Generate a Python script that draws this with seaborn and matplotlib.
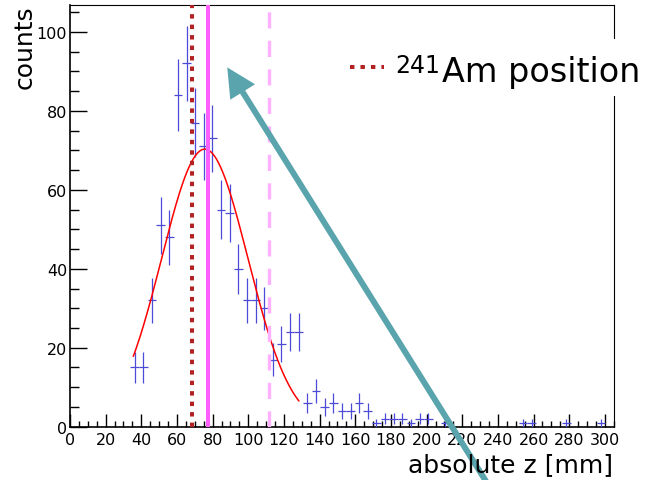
import numpy as np
import pandas as pd
import matplotlib
matplotlib.use("Agg")
import matplotlib.pyplot as plt
from matplotlib.ticker import MultipleLocator
from matplotlib.lines import Line2D
from matplotlib.patches import Rectangle
import seaborn as sns

# ---------------- data ----------------
hist_lo, hist_hi, n_bins = 0.0, 305.0, 63
counts = [0, 0, 0, 0, 0, 0, 0,
          15, 15, 32, 51, 48, 84, 92, 77, 71, 73, 55, 54, 40, 32, 32, 30, 17, 21, 24, 24,
          6, 9, 5, 6, 4, 4, 6, 4, 1, 2, 2, 2, 1, 2, 2, 0, 1,
          0, 0, 0, 0, 0, 0, 0, 0, 1, 1, 0, 0, 0, 1, 0, 0, 0, 1, 0]

# gaussian fit parameters
fit_amp, fit_mean, fit_sigma = 70.3, 75.6, 24.2
fit_lo, fit_hi = 35.5, 128.4

am_position = 68.7
mean_position = 77.3
dashed_position = 111.6

x_label = "absolute z [mm]"
y_label = "counts"
legend_sup = "241"
legend_text = "Am position"
x_ticks = list(range(0, 301, 20))
y_ticks = list(range(0, 101, 20))

# ---------------- style ----------------
sns.set_theme(style="ticks")
plt.rcParams["font.family"] = ["DejaVu Sans"]
plt.rcParams["text.color"] = "black"
plt.rcParams["axes.labelcolor"] = "black"
plt.rcParams["xtick.color"] = "black"
plt.rcParams["ytick.color"] = "black"

W, H = 654, 481
fig = plt.figure(figsize=(W / 100, H / 100), dpi=100)
fig.patch.set_facecolor("white")
ax_left, ax_right, ax_top, ax_bottom = 70, 613.8, 6, 427.7
ax = fig.add_axes([ax_left / W, 1 - ax_bottom / H, (ax_right - ax_left) / W, (ax_bottom - ax_top) / H])
ax.set_facecolor("white")

edges = np.linspace(hist_lo, hist_hi, n_bins + 1)
df = pd.DataFrame({"z": 0.5 * (edges[:-1] + edges[1:]),
                   "counts": counts,
                   "half": np.diff(edges) / 2})
df = df[df["counts"] > 0]
ax.errorbar(df["z"], df["counts"], xerr=df["half"], yerr=np.sqrt(df["counts"]),
            fmt="none", ecolor="#4b4bd8", elinewidth=0.9, capsize=0, zorder=3)

zf = np.linspace(fit_lo, fit_hi, 300)
fit_df = pd.DataFrame({"z": zf,
                       "f": fit_amp * np.exp(-0.5 * ((zf - fit_mean) / fit_sigma) ** 2)})
sns.lineplot(data=fit_df, x="z", y="f", color="#ff0000", lw=1.1, ax=ax, zorder=4)

ax.axvline(am_position, color="#b22222", lw=2.9, ls=(0, (1.1, 1.5)),
           dash_capstyle="butt", zorder=5)
ax.axvline(dashed_position, color="#ffb0ff", lw=2.4, ls=(0, (4.85, 3.7)),
           dash_capstyle="butt", zorder=5)
ax.axvline(mean_position, color="#ff5eff", lw=2.9, zorder=6)

ax.set_xlim(hist_lo, hist_hi)
ax.set_ylim(0, 106.8)
ax.set_xlabel("")
ax.set_ylabel("")

ax.set_xticks(x_ticks)
ax.set_xticklabels([str(t) for t in x_ticks])
ax.set_yticks(y_ticks)
ax.set_yticklabels([str(t) for t in y_ticks])
ax.xaxis.set_minor_locator(MultipleLocator(5))
ax.yaxis.set_minor_locator(MultipleLocator(5))
ax.tick_params(axis="x", which="major", direction="in", length=9.1, width=1.0,
               labelsize=11.5, pad=3.5, colors="black", top=False)
ax.tick_params(axis="x", which="minor", direction="in", length=4.3, width=1.0,
               colors="black", top=False)
ax.tick_params(axis="y", which="major", direction="in", length=12.0, width=1.0,
               labelsize=11.5, pad=2.0, colors="black", right=False)
ax.tick_params(axis="y", which="minor", direction="in", length=6.5, width=1.0,
               colors="black", right=False)
for s in ["left", "bottom"]:
    ax.spines[s].set_linewidth(1.2)
    ax.spines[s].set_color("black")
for s in ["top", "right"]:
    ax.spines[s].set_linewidth(0.8)
    ax.spines[s].set_color("black")
    ax.spines[s].set_visible(True)

# arrow
ann = ax.annotate("", xy=(88.2, 91.0), xytext=(239.5, -18.3),
                  arrowprops=dict(arrowstyle="simple,head_length=20.9,head_width=21,tail_width=4.3",
                                  mutation_scale=1, color="#5aa4ad", lw=0,
                                  shrinkA=0, shrinkB=0),
                  annotation_clip=False, zorder=8)
ann.arrow_patch.set_clip_on(False)

# axis titles
fig.text(613 / W, 1 - 471.7 / H, x_label, ha="right", va="baseline", fontsize=18, color="black")
fig.text(25 / W, 1 - 5 / H, y_label, ha="center", va="top", rotation=90, fontsize=18, color="black")

# legend box
fig.add_artist(Rectangle((340 / W, 1 - 97 / H), (W - 340) / W, 57 / H,
                         transform=fig.transFigure, facecolor="white",
                         edgecolor="none", zorder=10))
fig.add_artist(Line2D([350 / W, 384 / W], [1 - 68.3 / H, 1 - 68.3 / H],
                      transform=fig.transFigure, color="#b22222", lw=2.9,
                      ls=(0, (1.1, 1.5)), dash_capstyle="butt", zorder=11))
fig.text(395 / W, 1 - 73 / H, legend_sup, ha="left", va="baseline", fontsize=17,
         color="black", zorder=12)
fig.text(442 / W, 1 - 81.7 / H, legend_text, ha="left", va="baseline", fontsize=24,
         color="black", zorder=12)

fig.savefig("out.png", dpi=100, facecolor="white")
